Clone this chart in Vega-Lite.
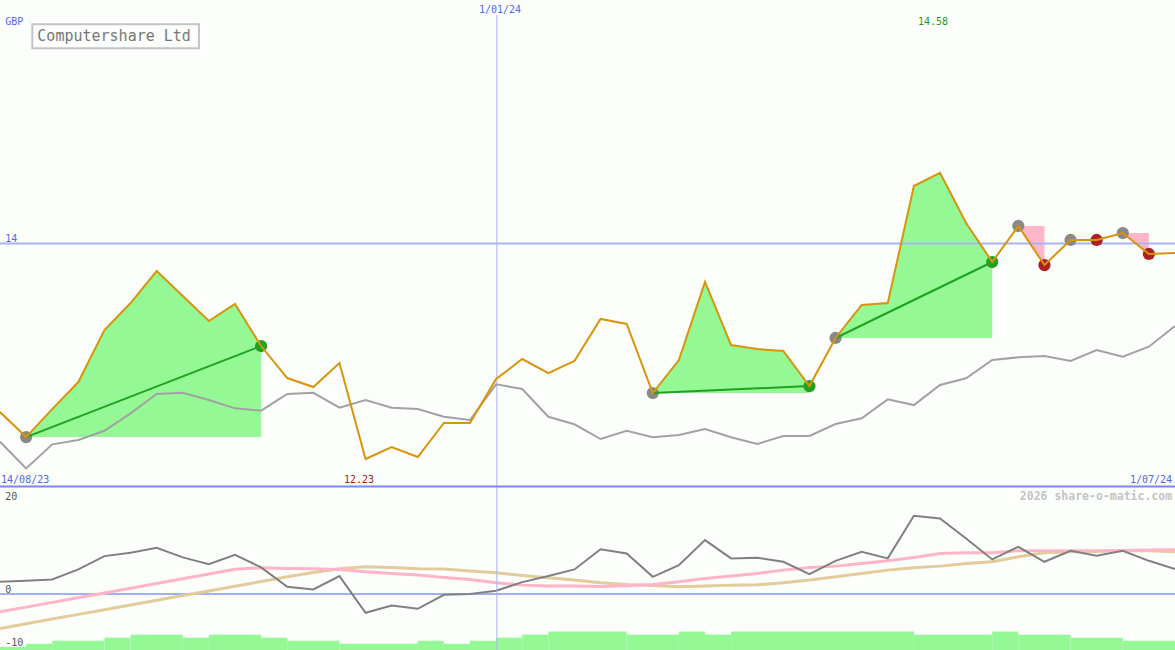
{
  "$schema": "https://vega.github.io/schema/vega-lite/v6.json",
  "background": "#fcfefc",
  "padding": 0,
  "autosize": {"type": "none"},
  "width": 1175,
  "height": 650,
  "config": {"view": {"stroke": null}},
  "datasets": {
    "weeks": [
      {"i":0,"close":12.616,"avg":12.372,"osc":2.64,"fast":-3.80,"slow":-7.37},
      {"i":1,"close":12.410,"avg":12.153,"osc":2.86,"fast":-2.79,"slow":-6.36},
      {"i":2,"close":12.640,"avg":12.350,"osc":3.16,"fast":-1.77,"slow":-5.35},
      {"i":3,"close":12.862,"avg":12.386,"osc":5.30,"fast":-0.76,"slow":-4.35},
      {"i":4,"close":13.289,"avg":12.462,"osc":8.16,"fast":0.26,"slow":-3.34},
      {"i":5,"close":13.511,"avg":12.605,"osc":8.87,"fast":1.27,"slow":-2.33},
      {"i":6,"close":13.774,"avg":12.764,"osc":9.94,"fast":2.28,"slow":-1.32},
      {"i":7,"close":13.569,"avg":12.774,"osc":7.88,"fast":3.30,"slow":-0.31},
      {"i":8,"close":13.363,"avg":12.714,"osc":6.44,"fast":4.31,"slow":0.69},
      {"i":9,"close":13.503,"avg":12.646,"osc":8.44,"fast":5.33,"slow":1.70},
      {"i":10,"close":13.158,"avg":12.627,"osc":5.73,"fast":5.65,"slow":2.71},
      {"i":11,"close":12.895,"avg":12.764,"osc":1.57,"fast":5.51,"slow":3.72},
      {"i":12,"close":12.821,"avg":12.774,"osc":1.01,"fast":5.44,"slow":4.65},
      {"i":13,"close":13.018,"avg":12.651,"osc":3.87,"fast":5.30,"slow":5.44},
      {"i":14,"close":12.230,"avg":12.714,"osc":-4.02,"fast":4.80,"slow":5.87},
      {"i":15,"close":12.328,"avg":12.651,"osc":-2.43,"fast":4.44,"slow":5.72},
      {"i":16,"close":12.246,"avg":12.640,"osc":-3.16,"fast":4.08,"slow":5.44},
      {"i":17,"close":12.526,"avg":12.577,"osc":-0.15,"fast":3.58,"slow":5.37},
      {"i":18,"close":12.526,"avg":12.550,"osc":0.00,"fast":3.15,"slow":4.94},
      {"i":19,"close":12.887,"avg":12.843,"osc":0.71,"fast":2.44,"slow":4.58},
      {"i":20,"close":13.051,"avg":12.805,"osc":2.58,"fast":1.93,"slow":4.01},
      {"i":21,"close":12.936,"avg":12.577,"osc":3.87,"fast":1.72,"slow":3.51},
      {"i":22,"close":13.035,"avg":12.515,"osc":5.30,"fast":1.72,"slow":3.01},
      {"i":23,"close":13.380,"avg":12.394,"osc":9.62,"fast":1.65,"slow":2.44},
      {"i":24,"close":13.339,"avg":12.462,"osc":8.74,"fast":1.79,"slow":2.08},
      {"i":25,"close":12.772,"avg":12.408,"osc":3.71,"fast":2.08,"slow":1.86},
      {"i":26,"close":13.043,"avg":12.427,"osc":6.23,"fast":2.65,"slow":1.58},
      {"i":27,"close":13.684,"avg":12.476,"osc":11.60,"fast":3.36,"slow":1.72},
      {"i":28,"close":13.166,"avg":12.408,"osc":7.67,"fast":3.87,"slow":1.93},
      {"i":29,"close":13.133,"avg":12.353,"osc":7.79,"fast":4.44,"slow":2.01},
      {"i":30,"close":13.117,"avg":12.419,"osc":6.94,"fast":5.15,"slow":2.44},
      {"i":31,"close":12.829,"avg":12.419,"osc":4.29,"fast":5.72,"slow":3.01},
      {"i":32,"close":13.224,"avg":12.517,"osc":7.15,"fast":6.01,"slow":3.72},
      {"i":33,"close":13.495,"avg":12.564,"osc":9.08,"fast":6.58,"slow":4.44},
      {"i":34,"close":13.511,"avg":12.720,"osc":7.67,"fast":7.15,"slow":5.15},
      {"i":35,"close":14.472,"avg":12.673,"osc":16.81,"fast":7.87,"slow":5.65},
      {"i":36,"close":14.580,"avg":12.838,"osc":16.26,"fast":8.73,"slow":6.01},
      {"i":37,"close":14.168,"avg":12.893,"osc":11.96,"fast":8.87,"slow":6.58},
      {"i":38,"close":13.848,"avg":13.043,"osc":7.45,"fast":8.87,"slow":6.94},
      {"i":39,"close":14.144,"avg":13.065,"osc":10.16,"fast":9.30,"slow":8.01},
      {"i":40,"close":13.823,"avg":13.076,"osc":6.94,"fast":9.30,"slow":8.87},
      {"i":41,"close":14.029,"avg":13.035,"osc":9.30,"fast":9.30,"slow":9.08},
      {"i":42,"close":14.029,"avg":13.125,"osc":8.22,"fast":9.30,"slow":9.16},
      {"i":43,"close":14.086,"avg":13.070,"osc":9.30,"fast":9.37,"slow":9.30},
      {"i":44,"close":13.914,"avg":13.152,"osc":7.15,"fast":9.45,"slow":9.30},
      {"i":45,"close":13.922,"avg":13.322,"osc":5.37,"fast":9.51,"slow":9.08}
    ],
    "zones": [
      {"zone":"g1","kind":"gain","i":1,"price":12.410,"base":12.410},
      {"zone":"g1","kind":"gain","i":2,"price":12.640,"base":12.410},
      {"zone":"g1","kind":"gain","i":3,"price":12.862,"base":12.410},
      {"zone":"g1","kind":"gain","i":4,"price":13.289,"base":12.410},
      {"zone":"g1","kind":"gain","i":5,"price":13.511,"base":12.410},
      {"zone":"g1","kind":"gain","i":6,"price":13.774,"base":12.410},
      {"zone":"g1","kind":"gain","i":7,"price":13.569,"base":12.410},
      {"zone":"g1","kind":"gain","i":8,"price":13.363,"base":12.410},
      {"zone":"g1","kind":"gain","i":9,"price":13.503,"base":12.410},
      {"zone":"g1","kind":"gain","i":10,"price":13.158,"base":12.410},
      {"zone":"g2","kind":"gain","i":25,"price":12.772,"base":12.772},
      {"zone":"g2","kind":"gain","i":26,"price":13.043,"base":12.772},
      {"zone":"g2","kind":"gain","i":27,"price":13.684,"base":12.772},
      {"zone":"g2","kind":"gain","i":28,"price":13.166,"base":12.772},
      {"zone":"g2","kind":"gain","i":29,"price":13.133,"base":12.772},
      {"zone":"g2","kind":"gain","i":30,"price":13.117,"base":12.772},
      {"zone":"g2","kind":"gain","i":31,"price":12.829,"base":12.772},
      {"zone":"g3","kind":"gain","i":32,"price":13.224,"base":13.224},
      {"zone":"g3","kind":"gain","i":33,"price":13.495,"base":13.224},
      {"zone":"g3","kind":"gain","i":34,"price":13.511,"base":13.224},
      {"zone":"g3","kind":"gain","i":35,"price":14.472,"base":13.224},
      {"zone":"g3","kind":"gain","i":36,"price":14.580,"base":13.224},
      {"zone":"g3","kind":"gain","i":37,"price":14.168,"base":13.224},
      {"zone":"g3","kind":"gain","i":38,"price":13.848,"base":13.224},
      {"zone":"l1","kind":"loss","i":39,"price":14.144,"base":14.144},
      {"zone":"l1","kind":"loss","i":40,"price":13.823,"base":14.144},
      {"zone":"l2","kind":"loss","i":43,"price":14.086,"base":14.086},
      {"zone":"l2","kind":"loss","i":44,"price":13.914,"base":14.086}
    ],
    "trends": [
      {"seg":"t1","i":1,"price":12.410},
      {"seg":"t1","i":10,"price":13.158},
      {"seg":"t2","i":25,"price":12.772},
      {"seg":"t2","i":31,"price":12.829},
      {"seg":"t3","i":32,"price":13.224},
      {"seg":"t3","i":38,"price":13.848}
    ],
    "signals": [
      {"i":1,"price":12.410,"sig":"entry"},
      {"i":25,"price":12.772,"sig":"entry"},
      {"i":32,"price":13.224,"sig":"entry"},
      {"i":39,"price":14.144,"sig":"entry"},
      {"i":41,"price":14.029,"sig":"entry"},
      {"i":43,"price":14.086,"sig":"entry"},
      {"i":10,"price":13.158,"sig":"win"},
      {"i":31,"price":12.829,"sig":"win"},
      {"i":38,"price":13.848,"sig":"win"},
      {"i":40,"price":13.823,"sig":"drop"},
      {"i":42,"price":14.029,"sig":"drop"},
      {"i":44,"price":13.914,"sig":"drop"}
    ],
    "volume": [
      {"from":0,"to":1,"vol":1},
      {"from":1,"to":2,"vol":2},
      {"from":2,"to":4,"vol":3},
      {"from":4,"to":5,"vol":4},
      {"from":5,"to":7,"vol":5},
      {"from":7,"to":8,"vol":4},
      {"from":8,"to":10,"vol":5},
      {"from":10,"to":11,"vol":4},
      {"from":11,"to":13,"vol":3},
      {"from":13,"to":16,"vol":2},
      {"from":16,"to":17,"vol":3},
      {"from":17,"to":18,"vol":2},
      {"from":18,"to":19,"vol":3},
      {"from":19,"to":20,"vol":4},
      {"from":20,"to":21,"vol":5},
      {"from":21,"to":24,"vol":6},
      {"from":24,"to":26,"vol":5},
      {"from":26,"to":27,"vol":6},
      {"from":27,"to":28,"vol":5},
      {"from":28,"to":35,"vol":6},
      {"from":35,"to":38,"vol":5},
      {"from":38,"to":39,"vol":6},
      {"from":39,"to":41,"vol":5},
      {"from":41,"to":43,"vol":4},
      {"from":43,"to":45,"vol":3}
    ]
  },
  "layer": [
    {
      "data": {"name": "volume"},
      "mark": {"type": "rect", "color": "#94f894"},
      "encoding": {
        "x": {"field": "from", "type": "quantitative", "scale": {"domain": [0, 45], "nice": false, "zero": false}, "axis": null},
        "x2": {"field": "to"},
        "y": {"field": "vol", "type": "quantitative", "scale": {"domain": [0, 211.4], "nice": false}, "axis": null},
        "y2": {"datum": 0}
      }
    },
    {
      "layer": [
        {
          "data": {"values": [{}]},
          "mark": {"type": "rule", "color": "#a0b0f0", "strokeWidth": 2},
          "encoding": {"y": {"datum": 0, "type": "quantitative", "scale": {"domain": [-12, 127.57], "nice": false, "zero": false}, "axis": null}}
        },
        {
          "data": {"name": "weeks"},
          "mark": {"type": "line", "color": "#e2cc9c", "strokeWidth": 3},
          "encoding": {
            "x": {"field": "i", "type": "quantitative"},
            "y": {"field": "slow", "type": "quantitative"}
          }
        },
        {
          "data": {"name": "weeks"},
          "mark": {"type": "line", "color": "#ffb4c8", "strokeWidth": 3},
          "encoding": {
            "x": {"field": "i", "type": "quantitative"},
            "y": {"field": "fast", "type": "quantitative"}
          }
        },
        {
          "data": {"name": "weeks"},
          "mark": {"type": "line", "color": "#808080", "strokeWidth": 2},
          "encoding": {
            "x": {"field": "i", "type": "quantitative"},
            "y": {"field": "osc", "type": "quantitative"}
          }
        },
        {
          "data": {"values": [{}]},
          "mark": {"type": "text", "text": "20", "font": "DejaVu Sans Mono", "fontSize": 10, "color": "#555555", "align": "left", "baseline": "alphabetic"},
          "encoding": {"x": {"datum": 0.2}, "y": {"datum": 20.21}}
        },
        {
          "data": {"values": [{}]},
          "mark": {"type": "text", "text": "0", "font": "DejaVu Sans Mono", "fontSize": 10, "color": "#555555", "align": "left", "baseline": "alphabetic"},
          "encoding": {"x": {"datum": 0.2}, "y": {"datum": 0.24}}
        },
        {
          "data": {"values": [{}]},
          "mark": {"type": "text", "text": "-10", "font": "DejaVu Sans Mono", "fontSize": 10, "color": "#555555", "align": "left", "baseline": "alphabetic"},
          "encoding": {"x": {"datum": 0.2}, "y": {"datum": -11.1}}
        },
        {
          "data": {"values": [{}]},
          "mark": {"type": "text", "text": "2026 share-o-matic.com", "font": "DejaVu Sans Mono", "fontSize": 11.5, "fontWeight": "bold", "color": "#c4c4c4", "align": "right", "baseline": "alphabetic"},
          "encoding": {"x": {"datum": 44.89}, "y": {"datum": 20.21}}
        }
      ]
    },
    {
      "layer": [
        {
          "data": {"name": "zones"},
          "mark": {"type": "area", "opacity": 1},
          "encoding": {
            "x": {"field": "i", "type": "quantitative"},
            "y": {"field": "price", "type": "quantitative", "scale": {"domain": [10.6612, 16], "nice": false, "zero": false}, "axis": null},
            "y2": {"field": "base"},
            "detail": {"field": "zone"},
            "color": {"field": "kind", "type": "nominal", "scale": {"domain": ["gain", "loss"], "range": ["#94f894", "#ffb6c8"]}, "legend": null}
          }
        },
        {
          "data": {"values": [{}]},
          "mark": {"type": "rule", "color": "#a8b4f4", "strokeWidth": 2},
          "encoding": {"y": {"datum": 14}}
        },
        {
          "data": {"values": [{}]},
          "mark": {"type": "rule", "color": "#aab2f0", "strokeWidth": 1},
          "encoding": {"x": {"datum": 19.03}, "y": {"datum": 15.877}, "y2": {"datum": 10.6612}}
        },
        {
          "data": {"values": [{}]},
          "mark": {"type": "rule", "color": "#7888ec", "strokeWidth": 2},
          "encoding": {"y": {"datum": 12.004}}
        },
        {
          "data": {"name": "weeks"},
          "mark": {"type": "line", "color": "#a2a2a2", "strokeWidth": 2},
          "encoding": {
            "x": {"field": "i", "type": "quantitative"},
            "y": {"field": "avg", "type": "quantitative"}
          }
        },
        {
          "data": {"name": "signals"},
          "mark": {"type": "point", "filled": true, "opacity": 1, "size": 150},
          "encoding": {
            "x": {"field": "i", "type": "quantitative"},
            "y": {"field": "price", "type": "quantitative"},
            "color": {"field": "sig", "type": "nominal", "scale": {"domain": ["entry", "win", "drop"], "range": ["#888888", "#22a022", "#aa2222"]}, "legend": null}
          }
        },
        {
          "data": {"name": "trends"},
          "mark": {"type": "line", "color": "#22a022", "strokeWidth": 2},
          "encoding": {
            "x": {"field": "i", "type": "quantitative"},
            "y": {"field": "price", "type": "quantitative"},
            "detail": {"field": "seg"}
          }
        },
        {
          "data": {"name": "weeks"},
          "mark": {"type": "line", "color": "#d8940a", "strokeWidth": 2},
          "encoding": {
            "x": {"field": "i", "type": "quantitative"},
            "y": {"field": "close", "type": "quantitative"}
          }
        },
        {
          "data": {"values": [{}]},
          "mark": {"type": "rect", "fill": null, "fillOpacity": 0, "stroke": "#c4c4c4", "strokeWidth": 2},
          "encoding": {"x": {"datum": 1.237}, "x2": {"datum": 7.62}, "y": {"datum": 15.8}, "y2": {"datum": 15.603}}
        },
        {
          "data": {"values": [{}]},
          "mark": {"type": "text", "text": "Computershare Ltd", "font": "DejaVu Sans Mono", "fontSize": 15, "color": "#777777", "align": "left", "baseline": "alphabetic"},
          "encoding": {"x": {"datum": 1.43}, "y": {"datum": 15.666}}
        },
        {
          "data": {"values": [{}]},
          "mark": {"type": "text", "text": "GBP", "font": "DejaVu Sans Mono", "fontSize": 10, "color": "#5566ee", "align": "left", "baseline": "alphabetic"},
          "encoding": {"x": {"datum": 0.2}, "y": {"datum": 15.795}}
        },
        {
          "data": {"values": [{}]},
          "mark": {"type": "text", "text": "1/01/24", "font": "DejaVu Sans Mono", "fontSize": 10, "color": "#5566ee", "align": "center", "baseline": "alphabetic"},
          "encoding": {"x": {"datum": 19.15}, "y": {"datum": 15.89}}
        },
        {
          "data": {"values": [{}]},
          "mark": {"type": "text", "text": "14.58", "font": "DejaVu Sans Mono", "fontSize": 10, "color": "#229922", "align": "center", "baseline": "alphabetic"},
          "encoding": {"x": {"datum": 35.73}, "y": {"datum": 15.795}}
        },
        {
          "data": {"values": [{}]},
          "mark": {"type": "text", "text": "14", "font": "DejaVu Sans Mono", "fontSize": 10, "color": "#5566ee", "align": "left", "baseline": "alphabetic"},
          "encoding": {"x": {"datum": 0.2}, "y": {"datum": 14.015}}
        },
        {
          "data": {"values": [{}]},
          "mark": {"type": "text", "text": "14/08/23", "font": "DejaVu Sans Mono", "fontSize": 10, "color": "#5566ee", "align": "left", "baseline": "alphabetic"},
          "encoding": {"x": {"datum": 0.04}, "y": {"datum": 12.033}}
        },
        {
          "data": {"values": [{}]},
          "mark": {"type": "text", "text": "12.23", "font": "DejaVu Sans Mono", "fontSize": 10, "color": "#aa2020", "align": "center", "baseline": "alphabetic"},
          "encoding": {"x": {"datum": 13.75}, "y": {"datum": 12.033}}
        },
        {
          "data": {"values": [{}]},
          "mark": {"type": "text", "text": "1/07/24", "font": "DejaVu Sans Mono", "fontSize": 10, "color": "#5566ee", "align": "right", "baseline": "alphabetic"},
          "encoding": {"x": {"datum": 44.89}, "y": {"datum": 12.033}}
        }
      ],
      "resolve": {"scale": {"color": "independent"}}
    }
  ],
  "resolve": {"scale": {"y": "independent"}}
}
